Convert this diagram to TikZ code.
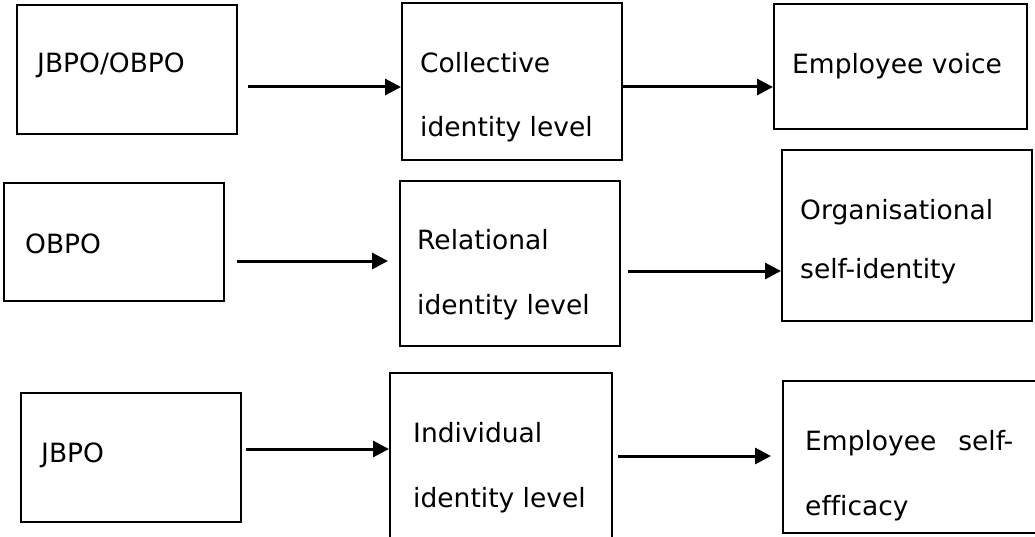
\documentclass[tikz,border=0pt]{standalone}
\usepackage{fontspec}
\setmainfont{DejaVu Sans}[Ligatures=CommonOff]
\usetikzlibrary{arrows.meta}

\begin{document}
\begin{tikzpicture}[x=1pt,y=-1pt,
    box/.style={draw, line width=2pt, inner sep=0pt},
    txt/.style={anchor=base west, inner sep=0pt, font=\fontsize{26.5}{30}\selectfont},
    conn/.style={line width=3pt, -{Triangle[length=16pt,width=16pt]}}]
    \clip (0,0) rectangle (1035,537);
    % boxes
    \node[box, minimum width=220pt, minimum height=129pt] (jo) at (127,69.5) {};
    \node[box, minimum width=220pt, minimum height=157pt] (coll) at (512,81.5) {};
    \node[box, minimum width=253pt, minimum height=125pt] (voice) at (900.5,66.5) {};
    \node[box, minimum width=220pt, minimum height=118pt] (obpo) at (114,242) {};
    \node[box, minimum width=220pt, minimum height=165pt] (rel) at (510,263.5) {};
    \node[box, minimum width=250pt, minimum height=171pt] (org) at (907,235.5) {};
    \node[box, minimum width=220pt, minimum height=129pt] (jbpo) at (131,457.5) {};
    \node[box, minimum width=222pt, minimum height=182pt] (ind) at (501,464) {};
    \node[box, minimum width=266pt, minimum height=152pt] (eff) at (916,457) {};
    % texts
    \node[txt] (jotxt) at (37,73) {JBPO/OBPO};
    \node[txt] (colltxt) at (420,73) {Collective};
    \node[txt] (colltxtb) at (420,137) {identity level};
    \node[txt] (voicetxt) at (792,74) {Employee voice};
    \node[txt] (obpotxt) at (25,253) {OBPO};
    \node[txt] (reltxt) at (417,250) {Relational};
    \node[txt] (reltxtb) at (417,314) {identity level};
    \node[txt] (orgtxt) at (800,220) {Organisational};
    \node[txt] (orgtxtb) at (800,278) {self-identity};
    \node[txt] (jbpotxt) at (41,462) {JBPO};
    \node[txt] (indtxt) at (413,442) {Individual};
    \node[txt] (indtxtb) at (413,507) {identity level};
    \node[txt] (efftxt) at (805,450) {\hbox to 208pt{Employee\hfill self-}};
    \node[txt] (efftxtb) at (805,515) {efficacy};
    % arrows
    \coordinate (r1) at (248,87);
    \draw[conn] (r1) -- (r1 -| coll.west);
    \draw[conn] (coll.east |- r1) -- (r1 -| voice.west);
    \coordinate (r2a) at (237,261);
    \coordinate (r2b) at (388,261);
    \draw[conn] (r2a) -- (r2b);
    \coordinate (r2c) at (628,271);
    \draw[conn] (r2c) -- (r2c -| org.west);
    \coordinate (r3a) at (246,449);
    \draw[conn] (r3a) -- (r3a -| ind.west);
    \coordinate (r3b) at (618,456);
    \coordinate (r3c) at (771,456);
    \draw[conn] (r3b) -- (r3c);
\end{tikzpicture}
\end{document}
